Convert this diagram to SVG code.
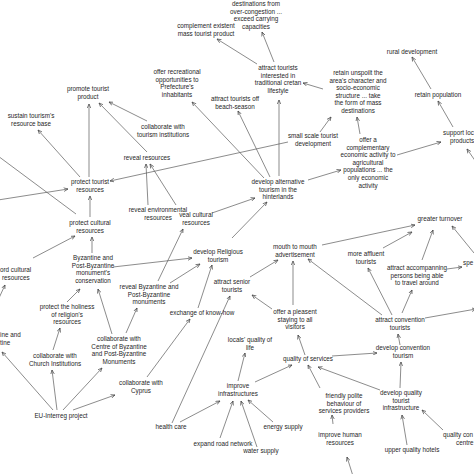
<svg xmlns="http://www.w3.org/2000/svg" width="474" height="474" viewBox="0 0 474 474">
<defs>
<style>
text{font-family:"Liberation Sans",Arial,sans-serif;font-size:6.3px;fill:#262626;text-anchor:middle}
.s{text-anchor:start}
#connectors line{stroke:#5a5a5a;stroke-width:0.7;fill:none}
.m{marker-end:url(#a)}
</style>
<marker id="a" viewBox="0 0 8 8" refX="7.5" refY="4" markerWidth="4.5" markerHeight="4.5" orient="auto" markerUnits="userSpaceOnUse"><path d="M0,0.8 L7.5,4 L0,7.2" fill="none" stroke="#444" stroke-width="1.2"/></marker>
</defs>
<rect width="474" height="474" fill="#fff"/>
<g id="connectors">
<line class="m" x1="264" y1="178" x2="192" y2="102"/>
<line class="m" x1="270" y1="177" x2="238" y2="111"/>
<line class="m" x1="279" y1="176" x2="279" y2="100"/>
<line class="m" x1="257" y1="64" x2="217" y2="39"/>
<line class="m" x1="274" y1="62" x2="262" y2="32"/>
<line class="m" x1="323" y1="89" x2="303" y2="83"/>
<line class="m" x1="431" y1="89" x2="412" y2="57"/>
<line class="m" x1="453" y1="127" x2="438" y2="101"/>
<line class="m" x1="476" y1="162" x2="467" y2="149"/>
<line class="m" x1="308" y1="180" x2="341" y2="170"/>
<line class="m" x1="397" y1="155" x2="441" y2="142"/>
<line class="m" x1="360" y1="134" x2="357" y2="117"/>
<line class="m" x1="320" y1="132" x2="331" y2="117"/>
<line class="m" x1="288" y1="142" x2="110" y2="181"/>
<line class="m" x1="89" y1="177" x2="89" y2="104"/>
<line class="m" x1="80" y1="177" x2="38" y2="130"/>
<line class="m" x1="147" y1="152" x2="99" y2="103"/>
<line class="m" x1="147" y1="121" x2="109" y2="102"/>
<line class="m" x1="148" y1="205" x2="146" y2="164"/>
<line class="m" x1="176" y1="205" x2="150" y2="164"/>
<line class="m" x1="212" y1="213" x2="255" y2="198"/>
<line class="m" x1="232" y1="238" x2="267" y2="202"/>
<line class="m" x1="-2" y1="200" x2="68" y2="189"/>
<line x1="-2" y1="156" x2="76" y2="214"/>
<line class="m" x1="90" y1="217" x2="90" y2="196"/>
<line class="m" x1="92" y1="253" x2="92" y2="237"/>
<line class="m" x1="33" y1="258" x2="75" y2="236"/>
<line class="m" x1="-1" y1="298" x2="5" y2="285"/>
<line class="m" x1="67" y1="302" x2="80" y2="289"/>
<line class="m" x1="112" y1="334" x2="98" y2="289"/>
<line class="m" x1="126" y1="333" x2="137" y2="308"/>
<line class="m" x1="113" y1="267" x2="192" y2="258"/>
<line class="m" x1="170" y1="283" x2="200" y2="264"/>
<line class="m" x1="158" y1="281" x2="183" y2="229"/>
<line class="m" x1="198" y1="308" x2="212" y2="265"/>
<line class="m" x1="147" y1="377" x2="190" y2="319"/>
<line class="m" x1="57" y1="410" x2="52" y2="370"/>
<line class="m" x1="63" y1="410" x2="102" y2="368"/>
<line class="m" x1="73" y1="410" x2="115" y2="395"/>
<line class="m" x1="53" y1="410" x2="2" y2="352"/>
<line class="m" x1="53" y1="350" x2="60" y2="328"/>
<line class="m" x1="172" y1="423" x2="230" y2="296"/>
<line class="m" x1="180" y1="422" x2="220" y2="401"/>
<line class="m" x1="220" y1="438" x2="233" y2="401"/>
<line class="m" x1="257" y1="447" x2="241" y2="401"/>
<line class="m" x1="273" y1="422" x2="248" y2="400"/>
<line class="m" x1="238" y1="381" x2="245" y2="353"/>
<line class="m" x1="255" y1="382" x2="292" y2="365"/>
<line class="m" x1="320" y1="388" x2="308" y2="365"/>
<line class="m" x1="333" y1="424" x2="332" y2="415"/>
<line class="m" x1="353" y1="476" x2="347" y2="457"/>
<line class="m" x1="380" y1="390" x2="318" y2="367"/>
<line class="m" x1="332" y1="356" x2="377" y2="353"/>
<line class="m" x1="400" y1="388" x2="401" y2="362"/>
<line class="m" x1="407" y1="445" x2="402" y2="415"/>
<line class="m" x1="443" y1="430" x2="422" y2="410"/>
<line class="m" x1="400" y1="345" x2="398" y2="334"/>
<line class="m" x1="392" y1="315" x2="368" y2="268"/>
<line class="m" x1="402" y1="313" x2="412" y2="290"/>
<line class="m" x1="425" y1="318" x2="476" y2="309"/>
<line class="m" x1="382" y1="315" x2="308" y2="259"/>
<line class="m" x1="447" y1="269" x2="462" y2="267"/>
<line class="m" x1="322" y1="245" x2="415" y2="225"/>
<line class="m" x1="383" y1="248" x2="412" y2="232"/>
<line class="m" x1="422" y1="260" x2="433" y2="230"/>
<line class="m" x1="474" y1="253" x2="452" y2="226"/>
<line class="m" x1="250" y1="277" x2="278" y2="260"/>
<line class="m" x1="293" y1="305" x2="293" y2="261"/>
<line class="m" x1="272" y1="309" x2="252" y2="295"/>
<line class="m" x1="305" y1="355" x2="298" y2="335"/>
</g>
<g id="n-dest"><text x="256" y="6"><tspan x="256">destinations from</tspan><tspan x="256" dy="7.6">over-congestion ...</tspan><tspan x="256" dy="7.6">exceed carrying</tspan><tspan x="256" dy="7.6">capacities</tspan></text></g>
<g id="n-complement"><text x="206" y="28"><tspan x="206">complement existent</tspan><tspan x="206" dy="7.6">mass tourist product</tspan></text></g>
<g id="n-recreational"><text x="177" y="74"><tspan x="177">offer recreational</tspan><tspan x="177" dy="7.6">opportunities to</tspan><tspan x="177" dy="7.6">Prefecture's</tspan><tspan x="177" dy="7.6">inhabitants</tspan></text></g>
<g id="n-lifestyle"><text x="278" y="70"><tspan x="278">attract tourists</tspan><tspan x="278" dy="7.6">interested in</tspan><tspan x="278" dy="7.6">traditional cretan</tspan><tspan x="278" dy="7.6">lifestyle</tspan></text></g>
<g id="n-beach"><text x="235" y="101"><tspan x="235">attract tourists off</tspan><tspan x="235" dy="7.6">beach-season</tspan></text></g>
<g id="n-rural"><text x="412" y="54">rural development</text></g>
<g id="n-retainpop"><text x="438" y="97">retain population</text></g>
<g id="n-unspoilt"><text x="358" y="75"><tspan x="358">retain unspoilt the</tspan><tspan x="358" dy="7.6">area's character and</tspan><tspan x="358" dy="7.6">socio-economic</tspan><tspan x="358" dy="7.6">structure ... take</tspan><tspan x="358" dy="7.6">the form of mass</tspan><tspan x="358" dy="7.6">destinations</tspan></text></g>
<g id="n-promote"><text x="88" y="91"><tspan x="88">promote tourist</tspan><tspan x="88" dy="7.6">product</tspan></text></g>
<g id="n-sustain"><text x="31" y="118"><tspan x="31">sustain tourism's</tspan><tspan x="31" dy="7.6">resource base</tspan></text></g>
<g id="n-collabtour"><text x="163" y="129"><tspan x="163">collaborate with</tspan><tspan x="163" dy="7.6">tourism institutions</tspan></text></g>
<g id="n-reveal"><text x="147" y="160">reveal resources</text></g>
<g id="n-smallscale"><text x="313" y="138"><tspan x="313">small scale tourist</tspan><tspan x="313" dy="7.6">development</tspan></text></g>
<g id="n-complementary"><text x="368" y="142"><tspan x="368">offer a</tspan><tspan x="368" dy="7.6">complementary</tspan><tspan x="368" dy="7.6">economic activity to</tspan><tspan x="368" dy="7.6">agricultural</tspan><tspan x="368" dy="7.6">populations ... the</tspan><tspan x="368" dy="7.6">only economic</tspan><tspan x="368" dy="7.6">activity</tspan></text></g>
<g id="n-support"><text class="s" x="443" y="135"><tspan x="443">support loc</tspan><tspan x="450" dy="7.6">products</tspan></text></g>
<g id="n-protecttour"><text x="90" y="184"><tspan x="90">protect tourist</tspan><tspan x="90" dy="7.6">resources</tspan></text></g>
<g id="n-protectcult"><text x="90" y="225"><tspan x="90">protect cultural</tspan><tspan x="90" dy="7.6">resources</tspan></text></g>
<g id="n-revealenv"><text x="158" y="212"><tspan x="158">reveal environmental</tspan><tspan x="158" dy="7.6">resources</tspan></text></g>
<g id="n-revealcult"><text x="196" y="217"><tspan x="196">veal cultural</tspan><tspan x="196" dy="7.6">resources</tspan></text></g>
<g id="n-hub"><text x="278" y="184"><tspan x="278">develop alternative</tspan><tspan x="278" dy="7.6">tourism in the</tspan><tspan x="278" dy="7.6">hinterlands</tspan></text></g>
<g id="n-religious"><text x="218" y="254"><tspan x="218">develop Religious</tspan><tspan x="218" dy="7.6">tourism</tspan></text></g>
<g id="n-mouth"><text x="295" y="249"><tspan x="295">mouth to mouth</tspan><tspan x="295" dy="7.6">advertisement</tspan></text></g>
<g id="n-senior"><text x="232" y="284"><tspan x="232">attract senior</tspan><tspan x="232" dy="7.6">tourists</tspan></text></g>
<g id="n-pleasent"><text x="295" y="314"><tspan x="295">offer a pleasent</tspan><tspan x="295" dy="7.6">staying to all</tspan><tspan x="295" dy="7.6">visitors</tspan></text></g>
<g id="n-exchange"><text x="202" y="315">exchange of know-how</text></g>
<g id="n-locals"><text x="250" y="342"><tspan x="250">locals' quality of</tspan><tspan x="250" dy="7.6">life</tspan></text></g>
<g id="n-turnover"><text x="440" y="221">greater turnover</text></g>
<g id="n-affluent"><text x="366" y="256"><tspan x="366">more affluent</tspan><tspan x="366" dy="7.6">tourists</tspan></text></g>
<g id="n-accompany"><text x="417" y="270"><tspan x="417">attract accompanning</tspan><tspan x="417" dy="7.6">persons being able</tspan><tspan x="417" dy="7.6">to travel around</tspan></text></g>
<g id="n-spe"><text class="s" x="463" y="265">spe</text></g>
<g id="n-convtour"><text x="400" y="322"><tspan x="400">attract convention</tspan><tspan x="400" dy="7.6">tourists</tspan></text></g>
<g id="n-devconv"><text x="403" y="350"><tspan x="403">develop convention</tspan><tspan x="403" dy="7.6">tourism</tspan></text></g>
<g id="n-services"><text x="308" y="361">quality of services</text></g>
<g id="n-infra"><text x="238" y="388"><tspan x="238">improve</tspan><tspan x="238" dy="7.6">infrastructures</tspan></text></g>
<g id="n-health"><text x="171" y="429">health care</text></g>
<g id="n-road"><text x="223" y="446">expand road network</text></g>
<g id="n-water"><text x="261" y="453">water supply</text></g>
<g id="n-energy"><text x="283" y="429">energy supply</text></g>
<g id="n-friendly"><text x="344" y="398"><tspan x="344">friendly polite</tspan><tspan x="344" dy="7.6">behaviour of</tspan><tspan x="344" dy="7.6">services providers</tspan></text></g>
<g id="n-human"><text x="340" y="437"><tspan x="340">improve human</tspan><tspan x="340" dy="7.6">resources</tspan></text></g>
<g id="n-devquality"><text x="401" y="395"><tspan x="401">develop quality</tspan><tspan x="401" dy="7.6">tourist</tspan><tspan x="401" dy="7.6">infrastructure</tspan></text></g>
<g id="n-hotels"><text x="412" y="452">upper quality hotels</text></g>
<g id="n-conference"><text class="s" x="443" y="437"><tspan x="443">quality con</tspan><tspan x="456" dy="7.6">centre</tspan></text></g>
<g id="n-record"><text class="s" x="0" y="272"><tspan x="0">ord cultural</tspan><tspan x="2" dy="7.6">resources</tspan></text></g>
<g id="n-leftbyz"><text class="s" x="0" y="337"><tspan x="0">ine and</tspan><tspan x="0" dy="7.6">tine</tspan></text></g>
<g id="n-conservation"><text x="93" y="260"><tspan x="93">Byzantine and</tspan><tspan x="93" dy="7.6">Post-Byzantine</tspan><tspan x="93" dy="7.6">monument's</tspan><tspan x="93" dy="7.6">conservation</tspan></text></g>
<g id="n-revealbyz"><text x="149" y="289"><tspan x="149">reveal Byzantine and</tspan><tspan x="149" dy="7.6">Post-Byzantine</tspan><tspan x="149" dy="7.6">monuments</tspan></text></g>
<g id="n-holiness"><text x="67" y="309"><tspan x="67">protect the holiness</tspan><tspan x="67" dy="7.6">of religion's</tspan><tspan x="67" dy="7.6">resources</tspan></text></g>
<g id="n-collabcentre"><text x="119" y="341"><tspan x="119">collaborate with</tspan><tspan x="119" dy="7.6">Centre of Byzantine</tspan><tspan x="119" dy="7.6">and Post-Byzantine</tspan><tspan x="119" dy="7.6">Monuments</tspan></text></g>
<g id="n-church"><text x="55" y="358"><tspan x="55">collaborate with</tspan><tspan x="55" dy="7.6">Church Institutions</tspan></text></g>
<g id="n-eu"><text x="61" y="418">EU-Interreg project</text></g>
<g id="n-cyprus"><text x="141" y="385"><tspan x="141">collaborate with</tspan><tspan x="141" dy="7.6">Cyprus</tspan></text></g>
</svg>
